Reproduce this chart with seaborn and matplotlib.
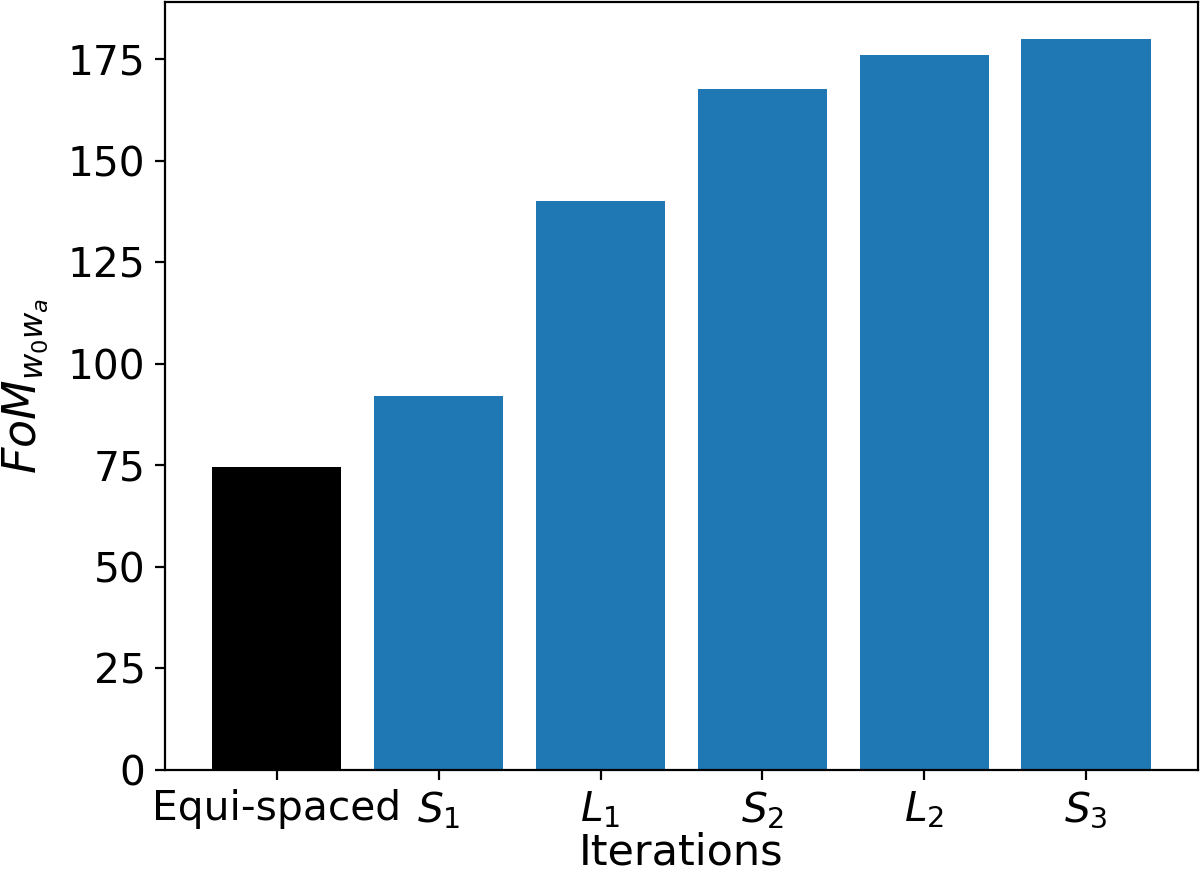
import matplotlib
matplotlib.use("Agg")
import matplotlib.pyplot as plt
import seaborn as sns
import pandas as pd

categories = ["Equi-spaced", r"$S_1$", r"$L_1$", r"$S_2$", r"$L_2$", r"$S_3$"]
values = [74.7, 92.0, 140.2, 167.8, 176.1, 180.1]
colors = ["#000000", "#1f77b4", "#1f77b4", "#1f77b4", "#1f77b4", "#1f77b4"]

df = pd.DataFrame({"cat": categories, "val": values})

plt.rcParams["font.size"] = 14.7
fig = plt.figure(figsize=(6, 4.4), dpi=200)
ax = fig.add_axes([0.1375, 0.125, 0.8608, 0.8727])

sns.barplot(data=df, x="cat", y="val", hue="cat", palette=colors,
            legend=False, width=0.8, saturation=1, ax=ax, order=categories,
            hue_order=categories)

n = len(categories)
span = (n - 1) + 0.8
ax.set_xlim(-0.4 - 0.05 * span, n - 1 + 0.4 + 0.05 * span)
ax.set_ylim(0, max(values) * 1.05)
ax.set_yticks([0, 25, 50, 75, 100, 125, 150, 175])
ax.tick_params(labelsize=14.7)
ax.set_xlabel("Iterations", fontsize=15.5, labelpad=0)
ax.set_ylabel(r"$FoM_{w_0w_a}$", fontsize=16.5, labelpad=6)

fig.savefig("out.png", dpi=200)
